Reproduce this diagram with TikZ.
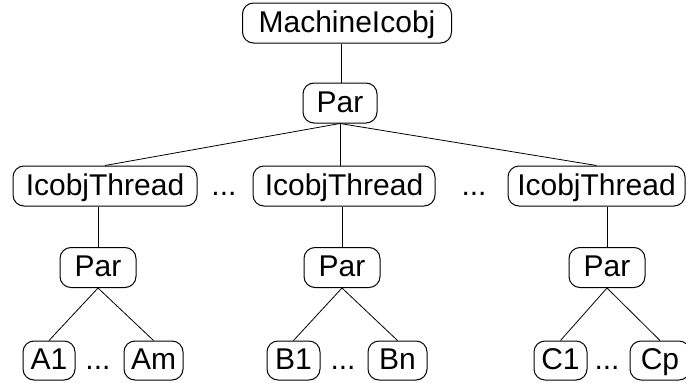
\documentclass[tikz,border=0pt]{standalone}
\usepackage{fontspec}
\setmainfont{Liberation Sans}
\begin{document}
\begin{tikzpicture}[x=1pt,y=-1pt,
  box/.style={draw, rounded corners=11pt, inner sep=0pt, minimum height=40pt, line width=1pt,
    font=\fontsize{30}{36}\selectfont, text height=24pt, text depth=6pt},
  leaf/.style={box, minimum height=39pt},
  dots/.style={inner sep=0pt, anchor=base, font=\fontsize{30}{36}\selectfont},
  edge/.style={line width=0.8pt}]
\useasboundingbox (0,0) rectangle (686,383);
\node[box, minimum width=209pt] (m) at (347,23) {MachineIcobj};
\node[box, minimum width=74pt] (pt) at (340,103) {Par};
\node[box, minimum width=184pt] (t1) at (105,186) {IcobjThread};
\node[box, minimum width=182pt] (t2) at (344,186) {IcobjThread};
\node[box, minimum width=177pt] (t3) at (596.5,186) {IcobjThread};
\node[dots] (d1) at (224,0 |- t1.base) {...};
\node[dots] (d2) at (474,0 |- t1.base) {...};
\node[box, minimum width=76pt] (p1) at (98,267.5) {Par};
\node[box, minimum width=76pt] (p2) at (342,267.5) {Par};
\node[box, minimum width=76pt] (p3) at (607,267.5) {Par};
\node[leaf, minimum width=52pt] (a1) at (49,360.5) {A1};
\node[leaf, minimum width=59pt] (am) at (153.5,360.5) {Am};
\node[leaf, minimum width=53pt] (b1) at (293.5,360.5) {B1};
\node[leaf, minimum width=59pt] (bn) at (397.5,360.5) {Bn};
\node[leaf, minimum width=53pt] (c1) at (560.5,360.5) {C1};
\node[leaf, minimum width=60pt] (cp) at (660,360.5) {Cp};
\node[dots] (da) at (98,0 |- a1.base) {...};
\node[dots] (db) at (343,0 |- b1.base) {...};
\node[dots] (dc) at (607,0 |- c1.base) {...};
\draw[edge] (pt.north -| 341,0) -- (m.south -| 341,0);
\draw[edge] (pt.south) -- (t1.north);
\draw[edge] (pt.south) -- (t2.north -| pt.south);
\draw[edge] (pt.south) -- (t3.north);
\draw[edge] (t1.south -| p1) -- (p1.north);
\draw[edge] (t2.south -| p2) -- (p2.north);
\draw[edge] (t3.south -| p3) -- (p3.north);
\draw[edge] (p1.south) -- (a1.north);
\draw[edge] (p1.south) -- (am.north);
\draw[edge] (p2.south) -- (b1.north);
\draw[edge] (p2.south) -- (bn.north);
\draw[edge] (p3.south) -- (c1.north);
\draw[edge] (p3.south) -- (cp.north);
\end{tikzpicture}
\end{document}
